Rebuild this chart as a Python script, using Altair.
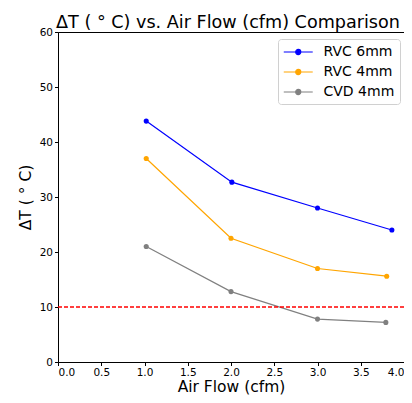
import altair as alt
import pandas as pd

series_names = ["RVC 6mm", "RVC 4mm", "CVD 4mm"]
rvc6_x = [1.02, 2.01, 3.0, 3.86]
rvc6_y = [43.8, 32.7, 28.0, 24.0]
rvc4_x = [1.02, 2.0, 3.0, 3.8]
rvc4_y = [37.0, 22.5, 17.0, 15.6]
cvd4_x = [1.02, 2.0, 3.0, 3.79]
cvd4_y = [21.0, 12.8, 7.8, 7.2]
threshold = [10]
colors = ["#0000ff", "#ffa500", "#808080"]

rows = []
for name, xs, ys in zip(series_names, [rvc6_x, rvc4_x, cvd4_x], [rvc6_y, rvc4_y, cvd4_y]):
    for xv, yv in zip(xs, ys):
        rows.append({"series": name, "flow": xv, "dt": yv})
df = pd.DataFrame(rows)
thr = pd.DataFrame({"y": threshold})

FONT = "DejaVu Sans"

xenc = alt.X("flow:Q", scale=alt.Scale(domain=[0, 4], nice=False),
             axis=alt.Axis(values=[0, 0.5, 1, 1.5, 2, 2.5, 3, 3.5, 4], format=".1f",
                           title="Air Flow (cfm)"))
yenc = alt.Y("dt:Q", scale=alt.Scale(domain=[0, 60], nice=False),
             axis=alt.Axis(values=[0, 10, 20, 30, 40, 50, 60], title="ΔT ( ° C)"))
color = alt.Color("series:N", scale=alt.Scale(domain=series_names, range=colors),
                  legend=alt.Legend(title=None, orient="none", legendX=220, legendY=7))

lines = alt.Chart(df).mark_line(strokeWidth=1.2).encode(x=xenc, y=yenc, color=color)
points = alt.Chart(df).mark_circle(size=26, opacity=1).encode(x="flow:Q", y="dt:Q", color=color)
rule = alt.Chart(thr).mark_rule(color="#ff0000", strokeDash=[4, 2], strokeWidth=1.5).encode(y="y:Q")

chart = alt.layer(lines, points, rule).properties(
    width=346, height=330,
    title=alt.TitleParams("ΔT ( ° C) vs. Air Flow (cfm) Comparison", fontSize=17.6, font=FONT,
                          fontWeight="normal", anchor="middle", offset=5, dy=10, dx=-3,
                          color="#000"),
    padding={"left": 50, "top": 24, "right": 0, "bottom": 33},
    autosize=alt.AutoSizeParams(type="none"),
).configure_view(stroke="#000", strokeWidth=1).configure_axis(
    grid=False, domainColor="#000", tickColor="#000", labelColor="#000", titleColor="#000",
    labelFont=FONT, titleFont=FONT, labelFontSize=10.5, titleFontSize=15.5,
    titleFontWeight="normal", tickSize=3.5, labelPadding=2,
).configure_axisY(titlePadding=6).configure_axisX(titlePadding=1).configure_legend(
    symbolType="M-1,0L3,0M0.65,0A0.35,0.35 0 1,1 1.35,0A0.35,0.35 0 1,1 0.65,0Z",
    symbolSize=210, symbolStrokeWidth=1.2, labelFont=FONT, labelFontSize=14,
    labelColor="#000", labelOffset=24.5, rowPadding=5, padding=5,
    strokeColor="#d0d0d0", fillColor="rgba(255,255,255,0.8)", cornerRadius=3,
)

chart.save("out.html", embed_options={"renderer": "svg", "actions": False})
